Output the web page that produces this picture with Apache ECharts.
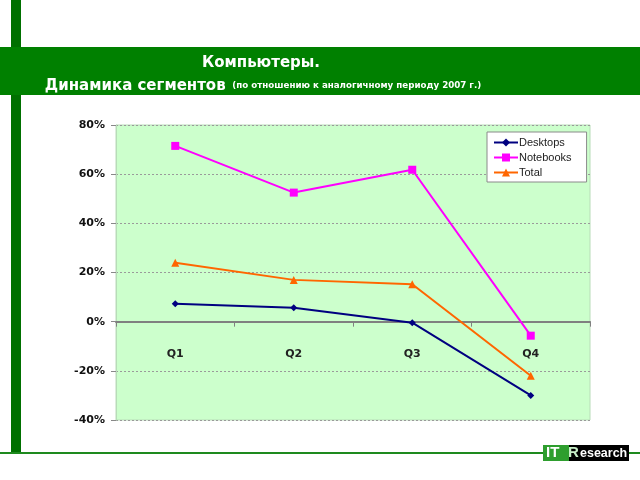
<!DOCTYPE html>
<html><head><meta charset="utf-8">
<script src="https://cdn.jsdelivr.net/npm/echarts@6/dist/echarts.min.js"></script>
<style>html,body{margin:0;padding:0;background:#fff}#c{width:640px;height:480px}</style>
</head><body><div id="c"></div>
<script>
const categories = ['Q1', 'Q2', 'Q3', 'Q4'];
const desktops = [0.073, 0.057, -0.004, -0.300];
const notebooks = [0.715, 0.525, 0.618, -0.057];
const total = [0.240, 0.170, 0.152, -0.220];
const seriesNames = ['Desktops', 'Notebooks', 'Total'];
const titleLine1 = 'Компьютеры.';
const titleLine2a = 'Динамика сегментов';
const titleLine2b = '(по отношению к аналогичному периоду 2007 г.)';

const chart = echarts.init(document.getElementById('c'), null, {renderer: 'canvas'});
const green = '#008000';
chart.setOption({
  animation: false,
  backgroundColor: '#ffffff',
  grid: {left: 116, right: 50, top: 125, bottom: 60, show: true, backgroundColor: '#ccffcc', borderColor: '#b8dcb8', borderWidth: 1},
  legend: {
    orient: 'vertical', left: 487, top: 132,
    backgroundColor: '#ffffff', borderColor: '#8a8a8a', borderWidth: 1,
    padding: [5, 15, 4, 6], itemGap: 4, itemWidth: 24, itemHeight: 10,
    textStyle: {fontFamily: 'Liberation Sans', fontSize: 11, color: '#222', padding: [0, 0, 0, -4]},
    data: seriesNames
  },
  xAxis: [{
    type: 'category', data: categories, boundaryGap: true,
    axisLine: {onZero: true, lineStyle: {color: '#808080', width: 2}},
    axisTick: {show: true, length: 5, lineStyle: {color: '#808080'}},
    axisLabel: {show: false},
    splitLine: {show: false}
  }, {
    type: 'category', data: categories, boundaryGap: true, position: 'bottom', offset: -98,
    axisLine: {show: false, onZero: false},
    axisTick: {show: false},
    axisLabel: {margin: 27, fontFamily: 'DejaVu Sans', fontWeight: 'bold', fontSize: 11, color: '#222'},
    splitLine: {show: false}
  }],
  yAxis: {
    type: 'value', min: -0.4, max: 0.8, interval: 0.2,
    axisLine: {show: true, lineStyle: {color: '#b8dcb8'}},
    axisTick: {show: true, length: 5, lineStyle: {color: '#888'}},
    axisLabel: {margin: 11, fontFamily: 'DejaVu Sans', fontWeight: 'bold', fontSize: 11, color: '#111',
      formatter: v => Math.round(v * 100) + '%'},
    splitLine: {show: true, lineStyle: {color: '#9a9a9a', type: [2, 2], width: 1}}
  },
  series: [
    {name: seriesNames[0], type: 'line', data: desktops, color: '#000080', symbol: 'diamond', symbolSize: 7, lineStyle: {width: 2}, z: 4},
    {name: seriesNames[1], type: 'line', data: notebooks, color: '#ff00ff', symbol: 'rect', symbolSize: 8, lineStyle: {width: 2}, z: 3},
    {name: seriesNames[2], type: 'line', data: total, color: '#ff6600', symbol: 'triangle', symbolSize: 8, lineStyle: {width: 2}, z: 3}
  ],
  graphic: [
    {type: 'rect', shape: {x: 11, y: 0, width: 10, height: 453}, style: {fill: '#007000'}, z: 1},
    {type: 'rect', shape: {x: 0, y: 452, width: 640, height: 2}, style: {fill: '#1e8a1e'}, z: 1},
    {type: 'rect', shape: {x: 0, y: 47, width: 640, height: 48}, style: {fill: green}, z: 2},
    {type: 'text', x: 261, y: 63, z: 3, style: {text: titleLine1, fill: '#fff', font: 'bold 15px "DejaVu Sans"', textAlign: 'center', textVerticalAlign: 'middle'}},
    {type: 'text', x: 263, y: 86, z: 3, style: {
      text: '{a|' + titleLine2a + '}  {b|' + titleLine2b + '}',
      textAlign: 'center', textVerticalAlign: 'middle',
      rich: {a: {fill: '#fff', font: 'bold 15px "DejaVu Sans"'}, b: {fill: '#fff', font: 'bold 8.7px "DejaVu Sans"'}}
    }},
    {type: 'rect', shape: {x: 543, y: 445, width: 28, height: 16}, style: {fill: '#2e9e2e'}, z: 3},
    {type: 'rect', shape: {x: 569, y: 445, width: 60, height: 16}, style: {fill: '#000'}, z: 3},
    {type: 'text', x: 546, y: 453, z: 4, style: {text: 'IT', fill: '#fff', font: 'bold 15px "Liberation Sans"', textVerticalAlign: 'middle'}},
    {type: 'text', x: 568, y: 453, z: 5, style: {text: 'R', fill: '#c8f0c8', font: 'bold 15px "Liberation Sans"', textVerticalAlign: 'middle'}},
    {type: 'text', x: 580, y: 454, z: 5, style: {text: 'esearch', fill: '#fff', font: 'bold 12.5px "Liberation Sans"', textVerticalAlign: 'middle'}}
  ]
});
</script></body></html>
